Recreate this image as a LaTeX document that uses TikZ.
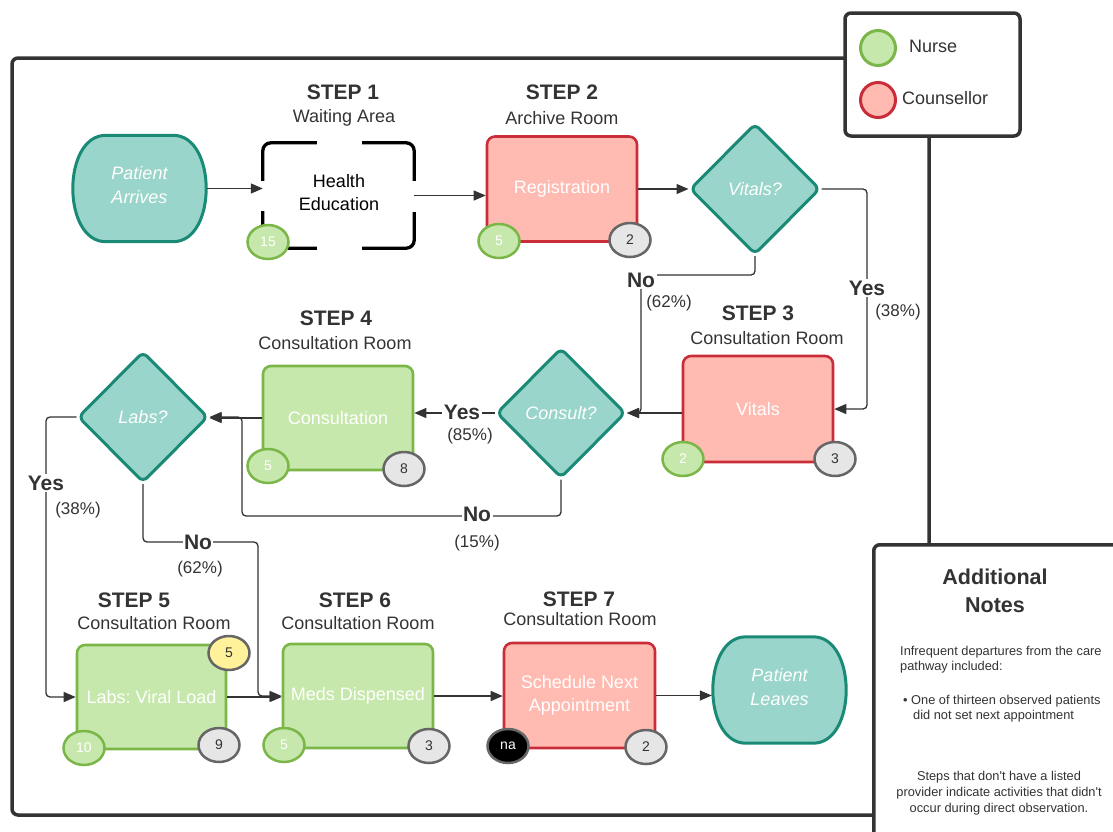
\documentclass[tikz,border=0pt]{standalone}
\usepackage{fontspec}
\setmainfont{Liberation Sans}
\usetikzlibrary{shapes.geometric,arrows.meta,calc}
\definecolor{tealF}{HTML}{99D5CA}
\definecolor{tealS}{HTML}{1A8A76}
\definecolor{redF}{HTML}{FFBBB1}
\definecolor{redS}{HTML}{C92D39}
\definecolor{greenF}{HTML}{C7E8AC}
\definecolor{greenS}{HTML}{7AB648}
\definecolor{grayF}{HTML}{E6E6E6}
\definecolor{grayS}{HTML}{666666}
\definecolor{yelF}{HTML}{FFF29B}
\definecolor{darkT}{HTML}{333333}
\definecolor{frameC}{HTML}{333333}
\pgfdeclarelayer{bg}
\pgfsetlayers{bg,main}
\frenchspacing
\begin{document}
\begin{tikzpicture}[x=1pt,y=-1pt,
  procbox/.style={line width=2.6pt, rounded corners=8pt, minimum width=150pt, minimum height=105pt, inner sep=0pt, align=center, text=white, font=\fontsize{18}{23}\selectfont},
  redbox/.style={procbox, draw=redS, fill=redF},
  greenbox/.style={procbox, draw=greenS, fill=greenF},
  decision/.style={diamond, draw=tealS, fill=tealF, line width=3pt, rounded corners=6pt, minimum width=130pt, minimum height=131pt, inner sep=0pt, text=white, font=\fontsize{18}{23}\selectfont\itshape},
  term/.style={minimum width=135pt, minimum height=106pt, inner sep=0pt, align=center, text=white, font=\fontsize{18}{24}\selectfont\itshape},
  termtext/.style={inner sep=0pt, align=center, text=white, font=\fontsize{18}{24}\selectfont\itshape},
  tealshape/.style={draw=tealS, fill=tealF, line width=3pt},
  bracket/.style={draw=black, line width=3.3pt, rounded corners=8pt},
  badge/.style={ellipse, minimum width=41pt, minimum height=34pt, line width=2.5pt, inner sep=0pt, font=\fontsize{14}{16}\selectfont},
  gbadge/.style={badge, draw=greenS, fill=greenF, text=white},
  gybadge/.style={badge, draw=grayS, fill=grayF, text=darkT},
  ybadge/.style={badge, draw=grayS, fill=yelF, text=darkT},
  kbadge/.style={badge, draw=grayS, fill=black, text=white},
  steplabel/.style={font=\bfseries\fontsize{21}{24}\selectfont, text=darkT, inner sep=0pt},
  roomlabel/.style={font=\fontsize{18}{21}\selectfont, text=darkT, inner sep=0pt},
  conn/.style={draw=frameC, line width=1.3pt, -{Triangle[length=12pt,width=10pt]}, rounded corners=4pt},
  yn/.style={font=\bfseries\fontsize{21}{24}\selectfont, text=darkT, fill=white, inner sep=1.5pt},
  pct/.style={font=\fontsize{17}{20}\selectfont, text=darkT, inner sep=0pt},
  frame/.style={draw=frameC, line width=3.5pt, rounded corners=6pt},
  note/.style={font=\fontsize{12.8}{15.5}\selectfont, text=darkT, inner sep=0pt}
]
\useasboundingbox (0,0) rectangle (1113,831);
\clip (0,0) rectangle (1113,831);

% main frame
\draw[frame] (12,58) rectangle (929,815);

% legend
\node[frame, fill=white, minimum width=175pt, minimum height=123pt] (leg) at (932.5,74.5) {};
\node[circle, draw=greenS, fill=greenF, line width=3pt, minimum size=35pt, inner sep=0pt] (nurseC) at (878,48) {};
\node[font=\fontsize{18}{21}\selectfont, text=darkT, anchor=west, inner sep=0pt] (nurseT) at (909,46) {Nurse};
\node[circle, draw=redS, fill=redF, line width=3pt, minimum size=35pt, inner sep=0pt] (counsC) at (878,100) {};
\node[font=\fontsize{18}{21}\selectfont, text=darkT, anchor=west, inner sep=0pt] (counsT) at (902,98) {Counsellor};

% notes box
\node[frame, fill=white, minimum width=260pt, minimum height=310pt, anchor=north west] (notes) at (872,543) {};
\node[font=\bfseries\fontsize{21.5}{28}\selectfont, text=darkT, align=center, inner sep=0pt] (ntitle) at (995,591) {Additional\\Notes};
\node[note, anchor=north west, align=left] (np1) at (900,646) {Infrequent departures from the care\\pathway included:};
\node[note, anchor=west] (np2) at (903,701) {• One of thirteen observed patients};
\node[note, anchor=west] (np3) at (913,716) {did not set next appointment};
\node[note, align=center, font=\fontsize{12.8}{16}\selectfont] (np4) at (999,793) {Steps that don\textquotesingle t have a listed\\provider indicate activities that didn\textquotesingle t\\occur during direct observation.};

% terminators
\node[term] (pa) at (139.5,188.5) {};
\node[term] (pl) at (779.5,690) {};
\begin{pgfonlayer}{bg}
\foreach \t in {pa,pl}{
\draw[tealshape] ([xshift=34pt]\t.north west) -- ([xshift=-34pt]\t.north east)
  .. controls ([xshift=10pt]\t.north east) and ([xshift=10pt]\t.south east) .. ([xshift=-34pt]\t.south east)
  -- ([xshift=34pt]\t.south west)
  .. controls ([xshift=-10pt]\t.south west) and ([xshift=-10pt]\t.north west) .. cycle;
}
\end{pgfonlayer}
\node[termtext] (paT) at (139.5,185.5) {Patient\\Arrives};
\node[termtext] (plT) at (779.5,687) {Patient\\Leaves};

% health education bracket box
\node[minimum width=151pt, minimum height=105pt, inner sep=0pt] (he) at (338.5,195.5) {};
\node[inner sep=0pt, align=center, font=\fontsize{18}{23}\selectfont, text=black] (heT) at (339,192.5) {Health\\Education};
\draw[bracket] ([xshift=54pt]he.north west) -- (he.north west) -- ([yshift=-38pt]he.north west);
\draw[bracket] ([xshift=-52pt]he.north east) -- (he.north east) -- ([yshift=-38pt]he.north east);
\draw[bracket] ([yshift=37pt]he.south west) -- (he.south west) -- ([xshift=54pt]he.south west);
\draw[bracket] ([yshift=36pt]he.south east) -- (he.south east) -- ([xshift=-52pt]he.south east);

% process boxes
\node[redbox] (reg) at (562,189) {Registration};
\node[redbox, minimum height=106pt] (vitb) at (758,409) {Vitals};
\node[greenbox, minimum height=104pt] (consu) at (338,418) {Consultation};
\node[greenbox, minimum width=149pt, minimum height=104pt] (lvl) at (151.5,697) {Labs: Viral Load};
\node[greenbox, minimum height=104pt] (meds) at (358,696) {Meds Dispensed};
\node[redbox, minimum width=151pt] (sched) at (579.5,695.5) {Schedule Next\\Appointment};

% decisions
\node[decision] (vit) at (755,189) {Vitals?};
\node[decision, minimum width=129pt, minimum height=130pt] (cons) at (561,413) {Consult?};
\node[decision] (labs) at (143,417) {Labs?};

% step labels
\node[steplabel] (s1) at (343,92) {STEP 1};
\node[roomlabel] (r1) at (344,118) {Waiting Area};
\node[steplabel] (s2) at (562,92) {STEP 2};
\node[roomlabel] (r2) at (562,118) {Archive Room};
\node[steplabel] (s3) at (758,313) {STEP 3};
\node[roomlabel] (r3) at (767,338) {Consultation Room};
\node[steplabel] (s4) at (336,318) {STEP 4};
\node[roomlabel] (r4) at (335,343) {Consultation Room};
\node[steplabel] (s5) at (134,600) {STEP 5};
\node[roomlabel] (r5) at (154,623) {Consultation Room};
\node[steplabel] (s6) at (355,600) {STEP 6};
\node[roomlabel] (r6) at (358,623) {Consultation Room};
\node[steplabel] (s7) at (579,599) {STEP 7};
\node[roomlabel] (r7) at (580,619) {Consultation Room};

% connector coordinates
\coordinate (vno) at (641,275);
\coordinate (vyes) at (867,288);
\coordinate (cno) at (242,516);
\coordinate (lyes) at (46,483);
\coordinate (lno) at (258,542);

% connectors
\draw[conn] (pa.east) -- (pa.east -| he.west);
\draw[conn] (he.east) -- (he.east -| reg.west);
\draw[conn] (reg.east) -- (vit.west);
\draw[conn] (vit.south) |- (vno) -- (vno |- cons.east) -- (cons.east);
\draw[conn] (vitb.west |- cons.east) -- (cons.east);
\draw[conn] (vit.east) -| (vyes) |- (vitb.east);
\draw[conn] (cons.west) -- (cons.west -| consu.east);
\draw[conn] (consu.west) -- (consu.west -| labs.east);
\draw[conn] (cons.south) |- (cno) |- (labs.east);
\draw[conn] (labs.west) -| (lyes) |- (lvl.west);
\draw[conn] (labs.south) |- (lno) |- (meds.west);
\draw[conn] (lvl.east) -- (lvl.east -| meds.west);
\draw[conn] (meds.east) -- (meds.east -| sched.west);
\draw[conn] (sched.east) -- (sched.east -| pl.west);

% branch labels
\node[yn] (vnoL) at (641,280) {No};
\node[pct] (vnoP) at (669,303) {(62\%)};
\node[yn] (vyesL) at (867,288) {Yes};
\node[pct] (vyesP) at (898,312) {(38\%)};
\node[yn] (cyesL) at (462,412) {Yes};
\node[pct] (cyesP) at (470,436) {(85\%)};
\node[yn] (cnoL) at (477,514) {No};
\node[pct] (cnoP) at (477,543) {(15\%)};
\node[yn] (lyesL) at (46,483) {Yes};
\node[pct] (lyesP) at (78,510) {(38\%)};
\node[yn] (lnoL) at (198,542) {No};
\node[pct] (lnoP) at (200,569) {(62\%)};

% badges
\node[gbadge] (b1) at (268,242) {15};
\node[gbadge] (b2) at (499,241) {5};
\node[gybadge] (b3) at (630,240) {2};
\node[gbadge] (b4) at (683,459) {2};
\node[gybadge] (b5) at (835,459) {3};
\node[gbadge] (b6) at (268,466) {5};
\node[gybadge] (b7) at (404,469) {8};
\node[ybadge] (b8) at (229,653) {5};
\node[gbadge] (b9) at (84,748) {10};
\node[gybadge] (b10) at (219,745) {9};
\node[gbadge] (b11) at (284,745) {5};
\node[gybadge] (b12) at (429,746) {3};
\node[kbadge] (b13) at (508,746) {na};
\node[gybadge] (b14) at (646,747) {2};
\end{tikzpicture}
\end{document}
